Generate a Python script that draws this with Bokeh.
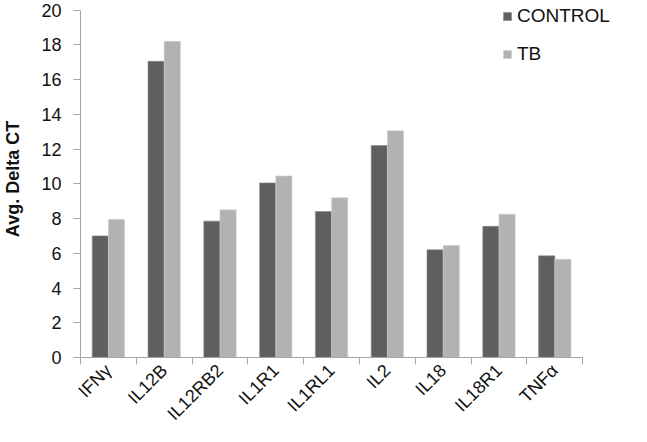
from math import pi
from bokeh.plotting import figure
from bokeh.models import ColumnDataSource, FixedTicker, Range1d, Legend, LegendItem
from bokeh.embed import file_html
from bokeh.resources import INLINE

genes = ["IFNγ", "IL12B", "IL12RB2", "IL1R1", "IL1RL1", "IL2", "IL18", "IL18R1", "TNFα"]
control = [7.0, 17.05, 7.85, 10.05, 8.4, 12.2, 6.2, 7.55, 5.85]
tb = [7.95, 18.2, 8.5, 10.45, 9.2, 13.05, 6.45, 8.25, 5.65]
y_ticks = [0, 2, 4, 6, 8, 10, 12, 14, 16, 18, 20]

N = len(genes)
BW = 0.29
centers = [i + 0.5 for i in range(N)]
src = ColumnDataSource(dict(
    xc=[c - BW / 2 for c in centers],
    xt=[c + BW / 2 for c in centers],
    control=control, tb=tb,
))

# frame: left 78, right 635 (557 px) -> 56 px per category
p = figure(width=639, height=434, output_backend="svg", toolbar_location=None,
           x_range=Range1d(0, 557 / 56), y_range=Range1d(0, 20.55),
           min_border_left=78, min_border_right=4, min_border_top=0, min_border_bottom=77)
p.outline_line_color = None
p.grid.grid_line_color = None
p.background_fill_color = "white"

r1 = p.vbar(x="xc", top="control", width=BW, bottom=0, source=src,
            fill_color="#5f5f5f", line_color="#8a8a8a", line_width=0.6)
r2 = p.vbar(x="xt", top="tb", width=BW, bottom=0, source=src,
            fill_color="#b2b2b2", line_color="#d0d0d0", line_width=0.6)

AX = "#a6a6a6"
FONT = "Liberation Sans"

xa = p.xaxis[0]
xa.bounds = (0, N)
xa.ticker = FixedTicker(ticks=centers, minor_ticks=list(range(N + 1)))
xa.major_label_overrides = {c: g for c, g in zip(centers, genes)}
xa.major_tick_line_color = None
xa.minor_tick_line_color = AX
xa.minor_tick_out = 7
xa.minor_tick_in = 0
xa.axis_line_color = AX
xa.major_label_orientation = pi / 4
xa.major_label_text_font = FONT
xa.major_label_text_font_size = "18px"
xa.major_label_text_color = "#111111"
xa.major_label_standoff = 3

ya = p.yaxis[0]
ya.bounds = (0, 20)
ya.ticker = FixedTicker(ticks=y_ticks)
ya.minor_tick_line_color = None
ya.major_tick_line_color = AX
ya.major_tick_out = 7
ya.major_tick_in = 0
ya.axis_line_color = AX
ya.major_label_text_font = FONT
ya.major_label_text_font_size = "18px"
ya.major_label_text_color = "#111111"
ya.major_label_standoff = 12
ya.axis_label = "Avg. Delta CT"
ya.axis_label_text_font = FONT
ya.axis_label_text_font_style = "bold"
ya.axis_label_text_font_size = "18px"
ya.axis_label_text_color = "#111111"
ya.axis_label_standoff = 15

legend = Legend(items=[LegendItem(label="CONTROL", renderers=[r1]),
                       LegendItem(label="TB", renderers=[r2])],
                location=(422, 292), orientation="vertical",
                glyph_width=10, glyph_height=10, label_height=20, spacing=16,
                label_standoff=5, padding=0, margin=0,
                border_line_color=None, background_fill_alpha=0,
                label_text_font=FONT, label_text_font_size="19px",
                label_text_color="#111111")
p.add_layout(legend)

open("out.html", "w").write(file_html(p, INLINE))
